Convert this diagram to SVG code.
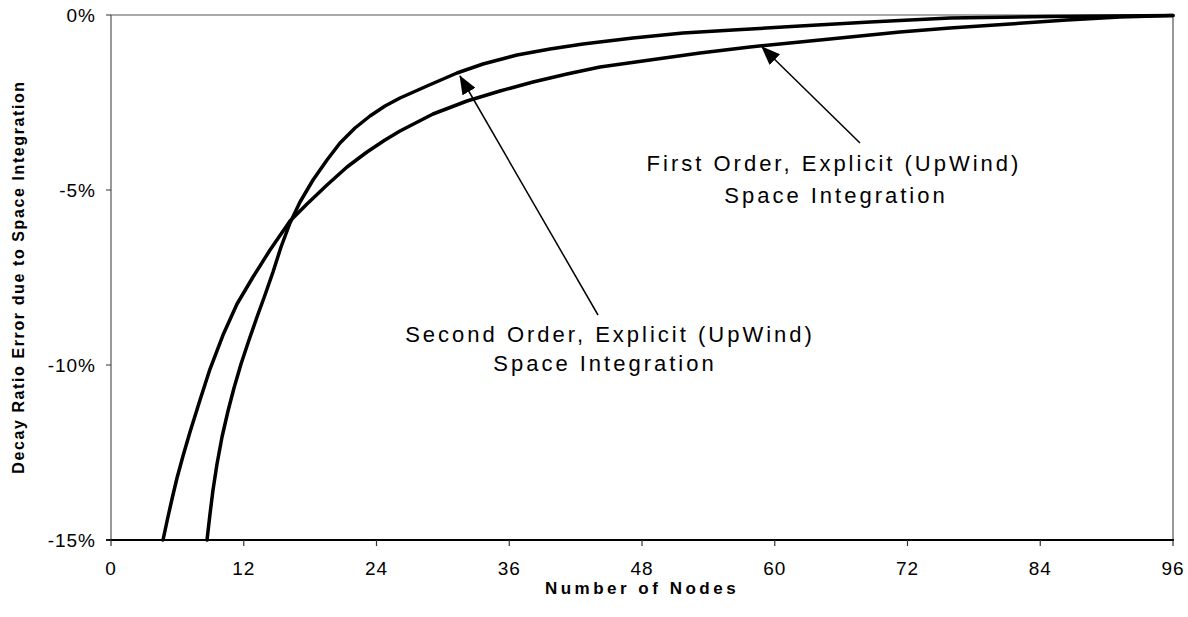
<svg xmlns="http://www.w3.org/2000/svg" width="1188" height="617" viewBox="0 0 1188 617">
<style>
text{font-family:"Liberation Sans",Arial,sans-serif;fill:#000}
.tick{font-size:19px;letter-spacing:1px}
.ylab{text-anchor:end}
.xlab{text-anchor:middle}
.title{font-size:17px;font-weight:bold;letter-spacing:3.5px;text-anchor:middle}
.ytitle{font-size:16px;font-weight:bold;letter-spacing:1.6px;text-anchor:middle}
.note{font-size:22px;letter-spacing:3px;text-anchor:middle}
.frame{fill:none;stroke:#555;stroke-width:1.2}
.axis{stroke:#000;stroke-width:2}
.tk{stroke:#333;stroke-width:1.2}
.curve{fill:none;stroke:#000;stroke-width:3.5;stroke-linejoin:round;stroke-linecap:round}
.arrow{stroke:#000;stroke-width:1.5;fill:none}
</style>
<defs>
<marker id="ah" markerWidth="19" markerHeight="15" refX="18" refY="7.5" orient="auto" markerUnits="userSpaceOnUse">
<path d="M0,0 L19,7.5 L0,15 Z" fill="#000"/>
</marker>
</defs>
<rect width="1188" height="617" fill="#fff"/>
<g id="plot-frame">
<path class="frame" d="M111,540 L111,15 L1173,15 L1173,540"/>
<line class="axis" x1="106" y1="540" x2="1174" y2="540"/>
<path class="tk" d="M106,15H111M106,190H111M106,365H111M106,540H111"/>
<path class="tk" d="M111,540V546M243.75,540V546M376.5,540V546M509.25,540V546M642,540V546M774.75,540V546M907.5,540V546M1040.25,540V546M1173,540V546"/>
</g>
<g id="y-labels" class="tick ylab">
<text x="96" y="22">0%</text>
<text x="96" y="197">-5%</text>
<text x="96" y="372">-10%</text>
<text x="96" y="547">-15%</text>
</g>
<g id="x-labels" class="tick xlab">
<text x="111" y="575">0</text>
<text x="243.75" y="575">12</text>
<text x="376.5" y="575">24</text>
<text x="509.25" y="575">36</text>
<text x="642" y="575">48</text>
<text x="774.75" y="575">60</text>
<text x="907.5" y="575">72</text>
<text x="1040.25" y="575">84</text>
<text x="1173" y="575">96</text>
</g>
<g id="axis-titles">
<text class="title" x="642" y="594">Number of Nodes</text>
<text class="ytitle" transform="translate(24,277) rotate(-90)">Decay Ratio Error due to Space Integration</text>
</g>
<g id="first-order-curve">
<polyline class="curve" points="163,540 167.5,519 172,499 177,478 183,456 190,432 200,400 210,369 223,335 237,304 253,277 270,250 290,221 307,204 327,185 347,167 367,152 385,140 400,131 433,114 467,101 500,91 533,82 567,74 600,67 650,60 700,53 750,47 800,42 850,37 900,32 950,28 1010,24 1067,20 1120,17 1173,15.5"/>
</g>
<g id="second-order-curve">
<polyline class="curve" points="207,540 210,514 213,490 217,464 222,437 228,411 234,388 241,364 249,340 257,317 265,295 273,272 281,247 290,223 300,202 313,180 327,160 340,143 355,128 370,116 385,106 400,98 427,86 457,73 483,64 517,55 550,49 583,44 633,38 683,33 733,30 800,26 870,22 950,18 1050,16.5 1173,15.5"/>
</g>
<g id="first-order-label">
<text class="note" x="834" y="171">First Order, Explicit (UpWind)</text>
<text class="note" x="836" y="203">Space Integration</text>
</g>
<g id="second-order-label">
<text class="note" x="610" y="342">Second Order, Explicit (UpWind)</text>
<text class="note" x="605" y="371">Space Integration</text>
</g>
<g id="connectors">
<line class="arrow" x1="860" y1="143" x2="762" y2="47" marker-end="url(#ah)"/>
<line class="arrow" x1="598" y1="315" x2="460" y2="76" marker-end="url(#ah)"/>
</g>
</svg>
